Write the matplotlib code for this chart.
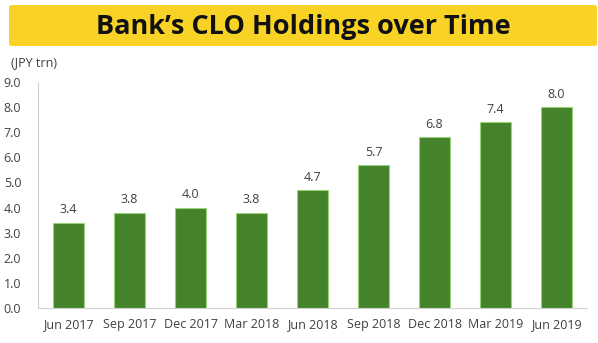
import matplotlib
matplotlib.use("Agg")
import matplotlib.pyplot as plt
from matplotlib.patches import FancyBboxPatch

categories = ["Jun 2017", "Sep 2017", "Dec 2017", "Mar 2018", "Jun 2018",
              "Sep 2018", "Dec 2018", "Mar 2019", "Jun 2019"]
values = [3.4, 3.8, 4.0, 3.8, 4.7, 5.7, 6.8, 7.4, 8.0]
yticks = [0.0, 1.0, 2.0, 3.0, 4.0, 5.0, 6.0, 7.0, 8.0, 9.0]
title = "Bank\u2019s CLO Holdings over Time"
unit = "(JPY trn)"

plt.rcParams['font.family'] = ['Open Sans', 'DejaVu Sans']
W, H = 598, 343
fig = plt.figure(figsize=(W/100, H/100), dpi=100)

# title banner
banner = FancyBboxPatch((9/W, 1 - 46/H), (597 - 9)/W, 41/H,
                        boxstyle="round,pad=0,rounding_size=0.006",
                        transform=fig.transFigure, facecolor="#f8d326",
                        edgecolor="none")
fig.patches.append(banner)
fig.text(303.5/W, 1 - 27/H, title, ha="center", va="center",
         fontsize=19.5, fontweight="bold", color="#111111")

ax = fig.add_axes([38/W, 1 - 308/H, (587 - 38)/W, (308 - 82)/H])
x = range(len(categories))
bars = ax.bar(x, values, width=0.5, color="#44832b", edgecolor="#9ad27a",
              linewidth=0.8)
for xi, v in zip(x, values):
    ax.text(xi, v + 0.25, f"{v:.1f}", ha="center", va="bottom",
            fontsize=9, color="#404040")

ax.set_xlim(-0.5, len(categories) - 0.5)
ax.set_ylim(0, 9)
ax.set_yticks(yticks)
ax.set_yticklabels([f"{t:.1f}" for t in yticks])
ax.set_xticks(list(x))
ax.set_xticklabels(categories)
ax.tick_params(axis="y", length=0, labelsize=9, labelcolor="#404040", pad=12)
ax.tick_params(axis="x", length=0, labelsize=9, labelcolor="#404040", pad=7)
for s in ["top", "right"]:
    ax.spines[s].set_visible(False)
ax.spines["left"].set_color("#d0d0d0")
ax.spines["bottom"].set_color("#d0d0d0")
fig.text(11/W, 1 - 63/H, unit, ha="left", va="center", fontsize=9,
         color="#404040")

fig.savefig("out.png", dpi=100)
